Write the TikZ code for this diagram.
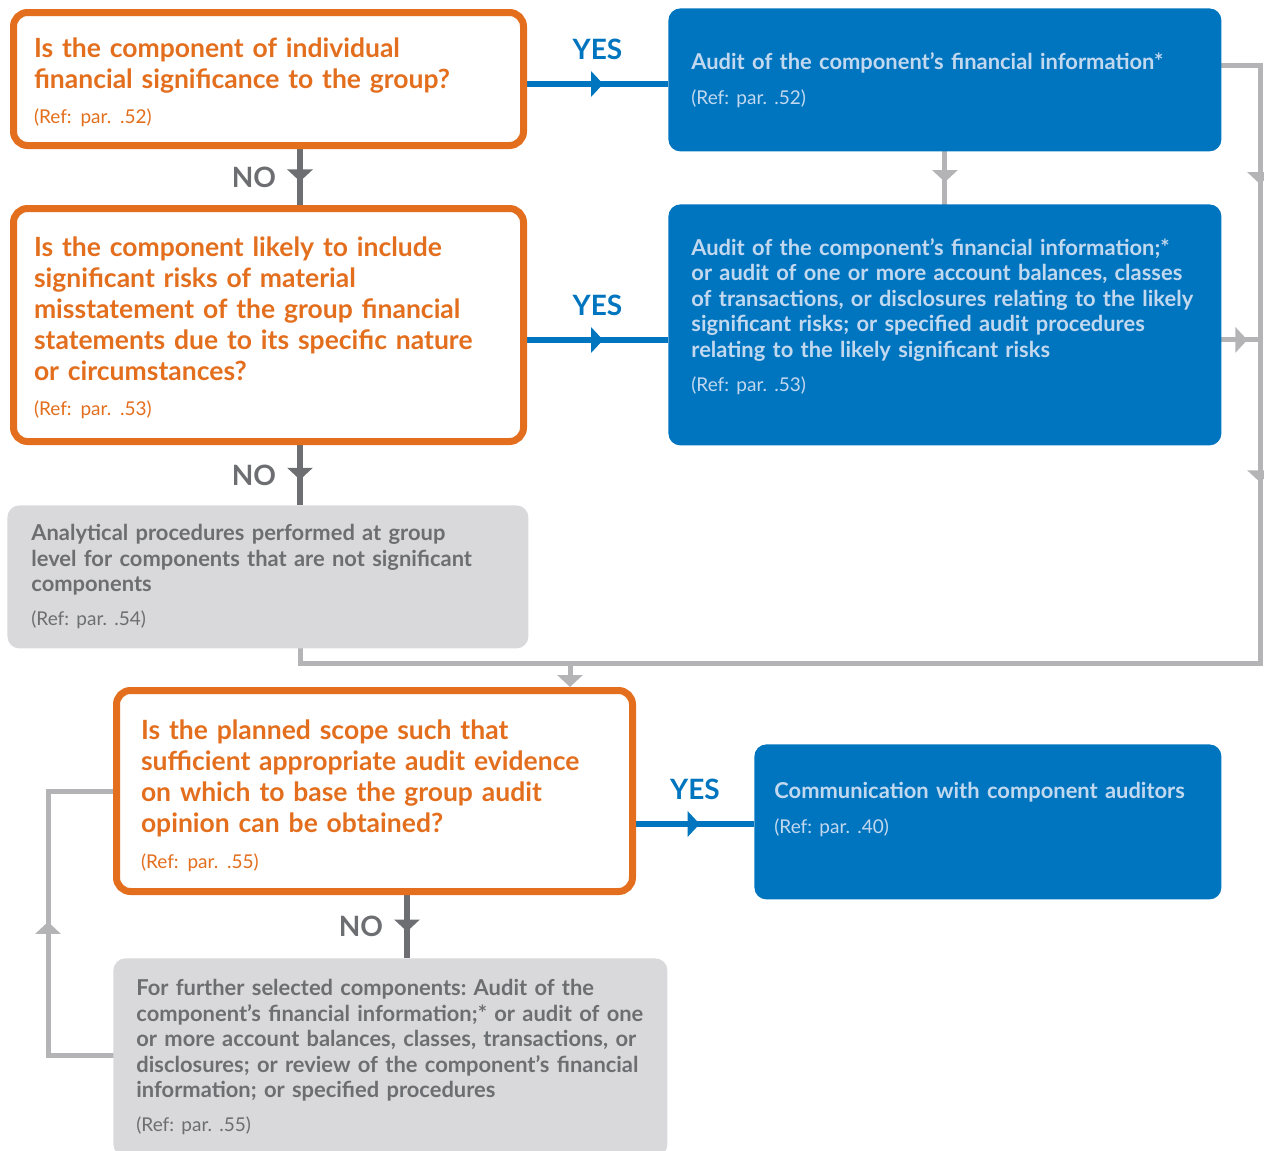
\documentclass[tikz,border=0pt]{standalone}
\usepackage{fontspec}
\setmainfont{Lato}
\frenchspacing
\usetikzlibrary{arrows.meta,decorations.markings,backgrounds}

\definecolor{qorange}{HTML}{E36F1E}
\definecolor{ablue}{HTML}{0075BF}
\definecolor{abluetext}{HTML}{C2D8EF}
\definecolor{pgray}{HTML}{D9D9DB}
\definecolor{pgraytext}{HTML}{6D6E71}
\definecolor{loopgray}{HTML}{B4B4B6}

\newcommand\qtext{\fontsize{13.25}{15.5}\selectfont\bfseries}
\newcommand\btext{\fontsize{10.95}{12.75}\selectfont\bfseries}
\newcommand\reftext{\fontsize{9.5}{11}\selectfont\mdseries}
\newcommand\yntext{\fontsize{14}{14}\selectfont\bfseries}
\newcommand\padbot[1]{\rule[-#1]{0pt}{#1}}
\newcommand\padtop[1]{\rule{0pt}{#1}}

\tikzset{
  >={Triangle[length=6pt,width=12.5pt]},
  midarrow/.style={postaction={decorate},decoration={markings,mark=at position #1 with {\arrow{>}}}},
  question/.style={draw=qorange,line width=3.5pt,rounded corners=7pt,fill=white,text=qorange,
    align=left,anchor=north west,inner xsep=10.25pt,font=\qtext},
  outcome/.style={fill=ablue,rounded corners=6pt,text=abluetext,align=left,anchor=north west,
    inner xsep=11.5pt,font=\btext},
  procedure/.style={fill=pgray,rounded corners=6pt,text=pgraytext,align=left,anchor=north west,
    inner xsep=12pt,font=\btext},
  yesline/.style={draw=ablue,line width=2.75pt},
  noline/.style={draw=pgraytext,line width=3pt},
  loopline/.style={draw=loopgray,line width=2.5pt,line cap=rect},
  yeslabel/.style={text=ablue,font=\yntext,inner sep=0pt,above=11pt},
  nolabel/.style={text=pgraytext,font=\yntext,inner sep=0pt,left=10.5pt},
}

\begin{document}
\begin{tikzpicture}[x=0.5pt,y=-0.5pt]
\useasboundingbox (0,0) rectangle (1264,1151);

% questions
\node[question,minimum width=255pt,minimum height=66.5pt,text width=234.5pt] (q1) at (10,9)
  {\padtop{12.8pt}Is the component of individual\\financial significance to the group?\\[2pt]{\reftext (Ref: par. .52)}};
\node[question,minimum width=255pt,minimum height=116.5pt,text width=234.5pt] (q2) at (10,205)
  {\padtop{12.8pt}Is the component likely to include\\significant risks of material\\misstatement of the group financial\\statements due to its specific nature\\or circumstances?\\[2pt]{\reftext (Ref: par. .53)}};
\node[question,minimum width=258pt,minimum height=100.5pt,text width=233.5pt,inner xsep=12.25pt] (q3) at (113,687)
  {\padtop{14.8pt}Is the planned scope such that\\sufficient appropriate audit evidence\\on which to base the group audit\\opinion can be obtained?\\[2.5pt]{\reftext (Ref: par. .55)}};

% outcomes
\node[outcome,minimum width=276.5pt,minimum height=71.5pt,text width=253.5pt] (b1) at (668,8)
  {Audit of the component’s financial information*\\[4.75pt]{\reftext (Ref: par. .52)}};
\node[outcome,minimum width=276.5pt,minimum height=120.5pt,text width=253.5pt] (b2) at (668,204)
  {Audit of the component’s financial information;*\\or audit of one or more account balances, classes\\of transactions, or disclosures relating to the likely\\significant risks; or specified audit procedures\\relating to the likely significant risks\\[4.25pt]{\reftext (Ref: par. .53)\padbot{10pt}}};
\node[outcome,minimum width=233.5pt,minimum height=77.5pt,text width=213.5pt,inner xsep=10pt] (b3) at (754,744)
  {Communication with component auditors\\[4.75pt]{\reftext (Ref: par. .40)\padbot{14pt}}};

% procedures
\node[procedure,minimum width=260.5pt,minimum height=71.5pt,text width=236.5pt] (ap) at (7,505)
  {Analytical procedures performed at group\\level for components that are not significant\\components\\[4.25pt]{\reftext (Ref: par. .54)}};
\node[procedure,minimum width=277pt,minimum height=99pt,text width=254pt,inner xsep=11.5pt] (ff) at (113,958)
  {For further selected components: Audit of the\\component’s financial information;* or audit of one\\or more account balances, classes, transactions, or\\disclosures; or review of the component’s financial\\information; or specified procedures\\[4.25pt]{\reftext (Ref: par. .55)}};

\begin{scope}[on background layer]
% yes branches
\coordinate (q1out) at ([yshift=-2.5pt]q1.east);
\draw[yesline,midarrow=0.54] (q1out) -- (q1out -| b1.west) node[pos=0.5,yeslabel] {YES};
\coordinate (q2out) at ([yshift=-7.5pt]q2.east);
\draw[yesline,midarrow=0.54] (q2out) -- (q2out -| b2.west) node[pos=0.5,yeslabel] {YES};
\coordinate (q3out) at ([yshift=-16.5pt]q3.east);
\draw[yesline,midarrow=0.54] (q3out) -- (q3out -| b3.west) node[pos=0.5,yeslabel] {YES};

% no branches
\coordinate (q1dn) at ([xshift=15.75pt]q1.south);
\draw[noline,midarrow=0.58] (q1dn) -- (q1dn |- q2.north) node[pos=0.5,nolabel] {NO};
\coordinate (q2dn) at ([xshift=15.75pt]q2.south);
\draw[noline,midarrow=0.58] (q2dn) -- (q2dn |- ap.north) node[pos=0.5,nolabel] {NO};
\coordinate (q3dn) at ([xshift=16.25pt]q3.south);
\draw[noline,midarrow=0.58] (q3dn) -- (q3dn |- ff.north) node[pos=0.5,nolabel] {NO};

% gray loop on the right
\draw[loopline,midarrow=0.58] (b1.south) -- (b2.north);
\coordinate (loopr) at (1260,663.5);
\coordinate (b1out) at ([yshift=7pt]b1.east);
\draw[loopline,postaction={decorate},decoration={markings,
  mark=at position 0.246 with {\arrow{>}},mark=at position 0.715 with {\arrow{>}}}] (b1out) -| (loopr);
\coordinate (b2out) at ([yshift=-7.5pt]b2.east);
\draw[loopline,midarrow=0.67] (b2out) -- (b2out -| loopr);
\coordinate (apdn) at ([xshift=16.25pt]ap.south);
\draw[loopline] (apdn) |- (loopr);
\coordinate (q3in) at ([xshift=97.75pt]q3.north);
\draw[loopline,->] (q3in |- loopr) -- (q3in);

% gray loop on the left
\coordinate (ffout) at ([yshift=0.75pt]ff.west);
\draw[loopline,midarrow=0.504] (ffout) -- ++(-32.5pt,0) |- (q3.west);
\end{scope}

\end{tikzpicture}
\end{document}
